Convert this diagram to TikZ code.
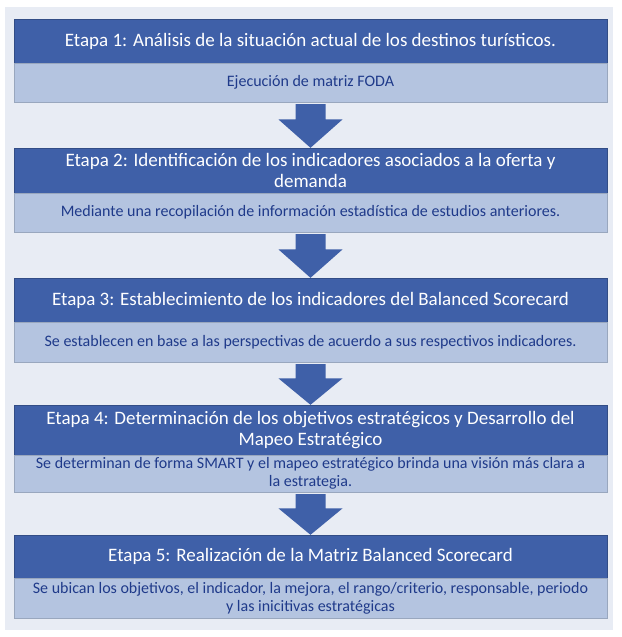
\documentclass[tikz,border=0pt]{standalone}
\usepackage{fontspec}
\setmainfont{Carlito}
\usetikzlibrary{calc}
\definecolor{dk}{HTML}{3F60A8}
\definecolor{lt}{HTML}{B4C4E0}
\definecolor{bg}{HTML}{E8ECF4}
\definecolor{tx}{HTML}{1F3A8A}
\begin{document}
\begin{tikzpicture}[x=1pt,y=-1pt,
  hd/.style={fill=dk,draw=dk!80!black,line width=0.4pt,text=white,font=\fontsize{19}{21}\selectfont,align=center,inner sep=0pt},
  bd/.style={fill=lt,draw=lt!85!black,line width=0.4pt,text=tx,font=\fontsize{16}{18}\selectfont,align=center,inner sep=0pt},
  arr/.style={fill=dk,draw=none}]
\useasboundingbox (0,0) rectangle (621,637);
\fill[bg] (5,7) rectangle (613,630);
\newcommand{\stage}[6]{%
  \node[hd,minimum width=593pt,minimum height=#3-#2] (h#1) at (310.5,{(#2+#3)/2}) {#5};
  \node[bd,minimum width=593pt,minimum height=#4-#3] (b#1) at (310.5,{(#3+#4)/2}) {#6};}
\stage{1}{19}{63}{102}{Etapa 1: Análisis de la situación actual de los destinos turísticos.}{Ejecución de matriz FODA}
\stage{2}{148}{193}{232}{Etapa 2: Identificación de los indicadores asociados a la oferta y\\demanda}{Mediante una recopilación de información estadística de estudios anteriores.}
\stage{3}{278}{322}{362}{Etapa 3: Establecimiento de los indicadores del Balanced Scorecard}{Se establecen en base a las perspectivas de acuerdo a sus respectivos indicadores.}
\stage{4}{405}{455}{492}{Etapa 4: Determinación de los objetivos estratégicos y Desarrollo del\\Mapeo Estratégico}{Se determinan de forma SMART y el mapeo estratégico brinda una visión más clara a\\la estrategia.}
\stage{5}{535}{578}{618}{Etapa 5: Realización de la Matriz Balanced Scorecard}{Se ubican los objetivos, el indicador, la mejora, el rango/criterio, responsable, periodo\\y las inicitivas estratégicas}
\foreach \a/\b in {b1/h2,b2/h3,b3/h4,b4/h5}{
  \path ([yshift=-2pt]\a.south) coordinate (s) (\b.north) coordinate (t);
  \fill[arr] ([xshift=-15pt]s) -- ([xshift=15pt]s) -- ($([xshift=15pt]s)!0.35!([xshift=15pt]s |- t)$) -- ($([xshift=32pt]s)!0.35!([xshift=32pt]s |- t)$) -- (t) -- ($([xshift=-32pt]s)!0.35!([xshift=-32pt]s |- t)$) -- ($([xshift=-15pt]s)!0.35!([xshift=-15pt]s |- t)$) -- cycle;
}
\end{tikzpicture}
\end{document}
